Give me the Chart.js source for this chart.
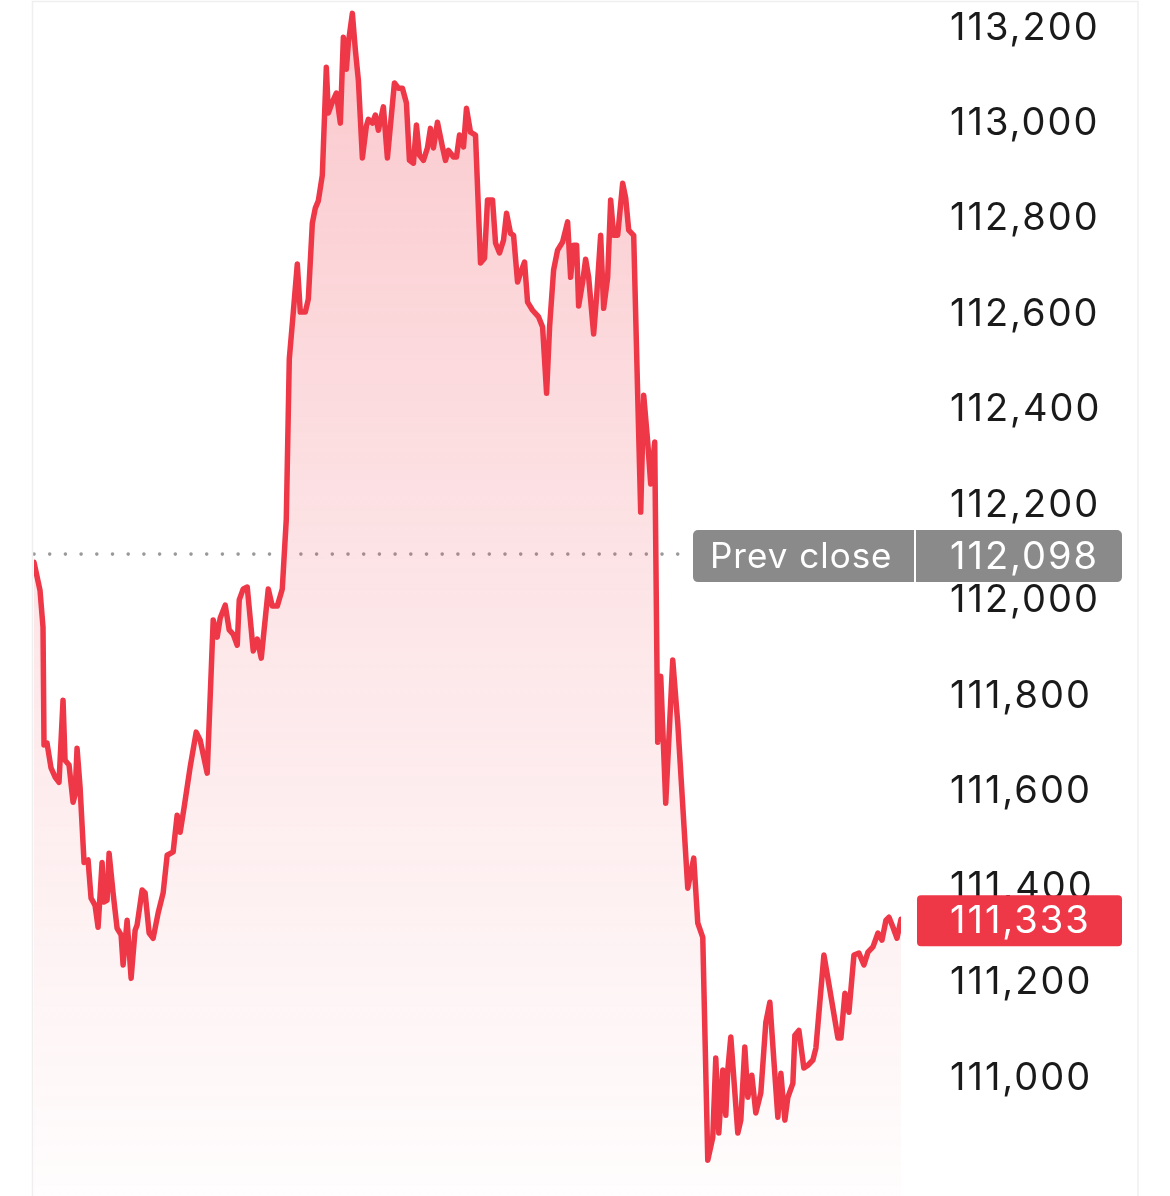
<!DOCTYPE html>
<html>
<head>
<meta charset="utf-8">
<title>Price chart</title>
<script src="https://cdn.jsdelivr.net/npm/chart.js@4.4.1/dist/chart.umd.min.js"></script>
<style>
  html, body { margin: 0; padding: 0; background: #fff; }
  #wrap { position: relative; width: 1170px; height: 1196px; }
</style>
</head>
<body>
<div id="wrap"><canvas id="chart"></canvas></div>
<script>
"use strict";

/* ── Data ───────────────────────────────────────────────── */
const minutes = [
  0, 6, 9, 10, 13, 17, 21, 25, 29, 31,
  35, 39, 41, 43, 46, 50, 54, 57, 61, 64,
  68, 70, 73, 75, 79, 83, 87, 89, 93, 97,
  101, 103, 108, 111, 115, 119, 124, 129, 133, 139,
  143, 146, 150, 156, 162, 166, 173, 179, 183, 186,
  191, 195, 199, 203, 205, 209, 213, 219, 223, 227,
  234, 238, 243, 248, 252, 255, 259, 263, 266, 271,
  274, 278, 281, 284, 288, 292, 294, 298, 302, 306,
  309, 312, 314, 318, 321, 324, 328, 332, 334, 338,
  341, 344, 349, 353, 360, 364, 368, 372, 375, 379,
  382, 385, 389, 393, 396, 399, 403, 408, 411, 414,
  419, 422, 425, 429, 432, 436, 441, 446, 450, 453,
  458, 461, 465, 469, 472, 476, 479, 483, 486, 490,
  493, 498, 504, 508, 512, 515, 519, 523, 528, 533,
  536, 539, 542, 544, 548, 551, 554, 559, 562, 566,
  569, 573, 576, 579, 583, 588, 591, 594, 599, 603,
  606, 609, 613, 616, 620, 623, 626, 631, 638, 643,
  653, 659, 663, 668, 673, 678, 681, 684, 688, 691,
  693, 696, 703, 706, 710, 713, 717, 721, 726, 731,
  735, 739, 743, 746, 750, 753, 758, 760, 764, 769,
  773, 778, 781, 789, 795, 803, 806, 810, 814, 819,
  824, 829, 833, 838, 843, 847, 851, 854, 858, 862,
  866
];

const prices = [
  112081, 112022, 111945, 111698, 111702, 111650, 111631, 111620, 111792, 111666,
  111656, 111578, 111593, 111691, 111610, 111452, 111457, 111377, 111362, 111316,
  111452, 111369, 111373, 111471, 111388, 111314, 111300, 111237, 111331, 111209,
  111310, 111321, 111394, 111388, 111304, 111293, 111346, 111388, 111467, 111474,
  111551, 111515, 111568, 111652, 111725, 111708, 111639, 111960, 111924, 111964,
  111991, 111939, 111930, 111907, 112002, 112025, 112029, 111895, 111920, 111880,
  112025, 111989, 111989, 112025, 112171, 112507, 112605, 112706, 112605, 112605,
  112632, 112791, 112823, 112838, 112892, 113118, 113022, 113045, 113064, 113001,
  113181, 113114, 113169, 113231, 113154, 113091, 112928, 112995, 113009, 113001,
  113018, 112986, 113035, 112928, 113085, 113074, 113074, 113043, 112923, 112917,
  112997, 112934, 112923, 112949, 112990, 112949, 113003, 112951, 112923, 112944,
  112930, 112930, 112976, 112951, 113032, 112982, 112976, 112708, 112718, 112840,
  112840, 112750, 112729, 112756, 112812, 112770, 112766, 112668, 112687, 112710,
  112626, 112609, 112595, 112574, 112435, 112574, 112693, 112735, 112752, 112794,
  112678, 112745, 112745, 112618, 112668, 112716, 112678, 112559, 112639, 112766,
  112613, 112678, 112840, 112766, 112766, 112875, 112844, 112777, 112766, 112431,
  112186, 112431, 112333, 112245, 112333, 111704, 111842, 111576, 111876, 111744,
  111398, 111461, 111325, 111295, 110828, 110876, 111042, 110885, 111017, 110922,
  111017, 111086, 110885, 110912, 111065, 110960, 111006, 110927, 110969, 111117,
  111159, 111038, 110918, 111010, 110912, 110960, 110989, 111090, 111100, 111021,
  111027, 111038, 111063, 111258, 111184, 111084, 111084, 111178, 111138, 111258,
  111262, 111237, 111264, 111275, 111304, 111289, 111331, 111337, 111316, 111293,
  111333
];

const prevClose = 112098;
const lastPrice = 111333;
const prevLabel = "Prev close";

const priceMin = 110753;   // visible range of the price axis
const priceMax = 113259;
const tickStep = 200;
const lowestTick = 111000;

const RED  = "#ee3848";
const GREY = "#8a8a8a";
const FONT = "Inter, 'Noto Sans', sans-serif";

const fmt = (v) => v.toLocaleString("en-US");

/* ── Overlays: frame, prev close dots, price tags ──────── */
function roundRect(ctx, x, y, w, h, r) {
  ctx.beginPath();
  ctx.moveTo(x + r, y);
  ctx.arcTo(x + w, y, x + w, y + h, r);
  ctx.arcTo(x + w, y + h, x, y + h, r);
  ctx.arcTo(x, y + h, x, y, r);
  ctx.arcTo(x, y, x + w, y, r);
  ctx.closePath();
}

const overlays = {
  id: "overlays",
  beforeDraw(chart) {
    // wider digit spacing, closer to the original UI font
    chart.ctx.letterSpacing = "2px";
  },
  beforeDatasetsDraw(chart) {
    const { ctx, chartArea, scales: { y } } = chart;
    const py = y.getPixelForValue(prevClose);
    ctx.save();
    ctx.fillStyle = "#999999";
    for (let x = chartArea.left; x < chartArea.right - 215; x += 15.7) {
      ctx.beginPath();
      ctx.arc(x, py, 1.8, 0, Math.PI * 2);
      ctx.fill();
    }
    ctx.restore();
  },
  afterDraw(chart) {
    const { ctx, chartArea, scales: { y } } = chart;
    const right = chartArea.right;
    const boxR = right + 221;
    const textX = right + 49;
    ctx.save();

    // faint frame
    ctx.strokeStyle = "#efefef";
    ctx.lineWidth = 1.5;
    ctx.beginPath();
    ctx.moveTo(chartArea.left - 1.5, 1197);
    ctx.lineTo(chartArea.left - 1.5, 1.5);
    ctx.lineTo(boxR + 16, 1.5);
    ctx.lineTo(boxR + 16, 1197);
    ctx.stroke();

    // prev close tag
    const pc = y.getPixelForValue(prevClose) + 2;
    ctx.fillStyle = GREY;
    roundRect(ctx, right - 208, pc - 26, boxR - right + 208, 52, 5);
    ctx.fill();
    ctx.fillStyle = "#ffffff";
    ctx.fillRect(right + 13, pc - 26, 2, 52);
    ctx.textBaseline = "middle";
    ctx.textAlign = "left";
    ctx.letterSpacing = "1px";
    ctx.font = "35px " + FONT;
    ctx.fillText(prevLabel, right - 191, pc + 1);
    ctx.letterSpacing = "2px";
    ctx.font = "38px " + FONT;
    ctx.fillText(fmt(prevClose), textX, pc + 1);

    // last price tag
    const lp = y.getPixelForValue(lastPrice) + 1;
    ctx.fillStyle = RED;
    roundRect(ctx, right + 16, lp - 25, boxR - right - 16, 51, 4);
    ctx.fill();
    ctx.fillStyle = "#ffffff";
    ctx.fillText(fmt(lastPrice), textX, lp + 1);

    ctx.restore();
  }
};

/* ── Chart ──────────────────────────────────────────────── */
const ctx = document.getElementById("chart").getContext("2d");
new Chart(ctx, {
  type: "line",
  data: {
    datasets: [{
      data: minutes.map((m, i) => ({ x: m, y: prices[i] })),
      borderColor: RED,
      borderWidth: 5.5,
      borderJoinStyle: "round",
      borderCapStyle: "round",
      pointRadius: 0,
      tension: 0,
      fill: "start",
      backgroundColor(c) {
        const area = c.chart.chartArea;
        if (!area) return "rgba(238,56,72,0.15)";
        const g = c.chart.ctx.createLinearGradient(0, area.top, 0, area.bottom);
        g.addColorStop(0, "rgba(238,56,72,0.28)");
        g.addColorStop(0.5, "rgba(238,56,72,0.13)");
        g.addColorStop(1, "rgba(238,56,72,0.01)");
        return g;
      },
    }],
  },
  options: {
    responsive: true,
    maintainAspectRatio: false,
    animation: false,
    layout: { padding: { left: 34, right: 0, top: 0, bottom: 0 } },
    plugins: {
      legend: { display: false },
      tooltip: { enabled: false },
    },
    scales: {
      x: {
        type: "linear",
        min: 0,
        max: minutes[minutes.length - 1],
        display: false,
      },
      y: {
        position: "right",
        min: priceMin,
        max: priceMax,
        grid: { display: false, drawTicks: false },
        border: { display: false },
        afterFit(scale) {
          scale.width = 269;
          scale.paddingTop = 0;
          scale.paddingBottom = 0;
        },
        afterBuildTicks(scale) {
          scale.ticks = scale.ticks.filter((t) => t.value >= lowestTick && t.value % tickStep === 0);
        },
        ticks: {
          stepSize: tickStep,
          includeBounds: false,
          padding: 49,
          color: "#1a1a1a",
          font: { family: FONT, size: 38 },
          callback: (v) => fmt(v),
        },
      },
    },
  },
  plugins: [overlays],
});
</script>
</body>
</html>
